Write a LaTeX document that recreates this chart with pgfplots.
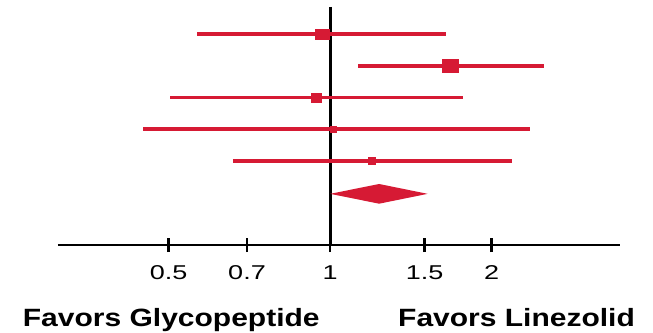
\documentclass[border=0pt]{standalone}
\usepackage{pgfplots}
\pgfplotsset{compat=1.18}
\usepackage{fontspec}
\setmainfont{Liberation Sans}
\newfontfamily\labfont[FakeStretch=1.2]{Liberation Sans}
\newfontfamily\tickfont[FakeStretch=1.35]{Liberation Sans}
\definecolor{fred}{RGB}{214,26,52}
\begin{document}
\begin{tikzpicture}
\useasboundingbox (0,0) rectangle (653pt,332pt);
\begin{axis}[
  anchor=south west, at={(58pt,87pt)},
  scale only axis, width=562pt, height=245pt,
  xmode=log, xmin=0.311, xmax=3.47,
  y dir=reverse, ymin=-0.07, ymax=7.64,
  axis x line*=bottom, axis y line=none,
  x axis line style={line width=2.8pt,-},
  xtick={0.5,0.7,1,1.5,2},
  xticklabels={0.5,0.7,1,1.5,2},
  minor xtick={},
  tick align=center,
  major tick length=14pt,
  every tick/.style={black, line width=2.4pt},
  xticklabel style={anchor=base, yshift=-27pt, font=\tickfont\fontsize{20}{24}\selectfont},
  clip=false,
]
% reference line at 1
\addplot[black, line width=2.8pt] coordinates {(1,0.15) (1,7.64)};
% confidence intervals
\addplot[fred, line width=3.8pt] coordinates {(0.565,1) (1.645,1)};
\addplot[fred, line width=3.8pt] coordinates {(1.128,2) (2.505,2)};
\addplot[fred, line width=3.8pt] coordinates {(0.503,3) (1.77,3)};
\addplot[fred, line width=3.8pt] coordinates {(0.448,4) (2.36,4)};
\addplot[fred, line width=3.8pt] coordinates {(0.659,5) (2.18,5)};
% point estimates
\addplot[only marks, mark=square*, mark size=5pt, mark options={fred, xscale=1.4}] coordinates {(0.966,1)};
\addplot[only marks, mark=square*, mark size=6.5pt, mark options={fred, xscale=1.3}] coordinates {(1.674,2)};
\addplot[only marks, mark=square*, mark size=4.5pt, mark options={fred, xscale=1.2}] coordinates {(0.942,3)};
\addplot[only marks, mark=square*, mark size=3pt, mark options={fred}] coordinates {(1.013,4)};
\addplot[only marks, mark=square*, mark size=3.5pt, mark options={fred}] coordinates {(1.197,5)};
% pooled estimate diamond
\addplot[fill=fred, draw=none] coordinates {(1.0,6.03) (1.234,5.72) (1.52,6.03) (1.234,6.34)} -- cycle;
\end{axis}
\node[anchor=base west, inner sep=0pt, font=\labfont\bfseries\fontsize{25}{30}\selectfont] at (22.7pt,6pt) {Favors Glycopeptide};
\node[anchor=base west, inner sep=0pt, font=\labfont\bfseries\fontsize{25}{30}\selectfont] at (398pt,6pt) {Favors Linezolid};
\end{tikzpicture}
\end{document}
